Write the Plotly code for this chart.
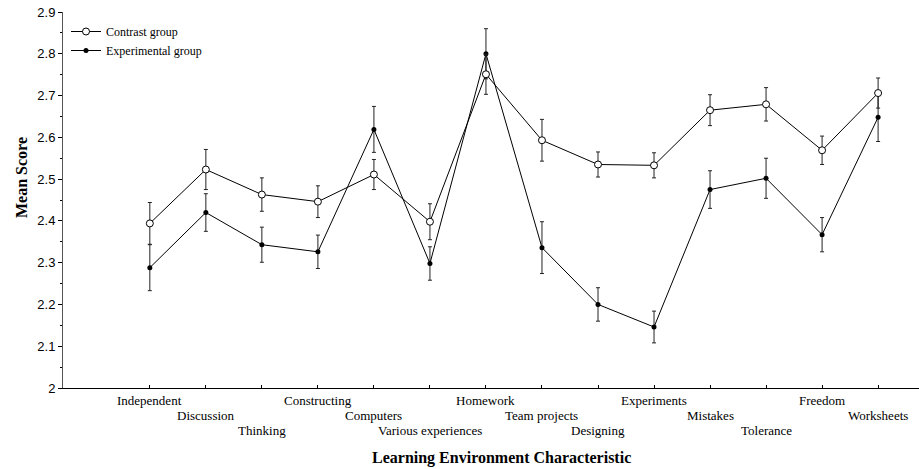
import plotly.graph_objects as go

categories = ["Independent", "Discussion", "Thinking", "Constructing", "Computers",
              "Various experiences", "Homework", "Team projects", "Designing",
              "Experiments", "Mistakes", "Tolerance", "Freedom", "Worksheets"]
contrast = [2.394, 2.523, 2.463, 2.446, 2.511, 2.398, 2.751, 2.593, 2.535, 2.533,
            2.665, 2.679, 2.569, 2.706]
contrast_err = [0.05, 0.048, 0.04, 0.038, 0.036, 0.043, 0.048, 0.05, 0.03, 0.03,
                0.037, 0.04, 0.034, 0.036]
experimental = [2.288, 2.42, 2.343, 2.326, 2.619, 2.298, 2.8, 2.336, 2.2, 2.146,
                2.475, 2.502, 2.367, 2.648]
experimental_err = [0.055, 0.045, 0.042, 0.04, 0.055, 0.04, 0.06, 0.062, 0.04, 0.038,
                    0.045, 0.048, 0.041, 0.058]
y_ticks = [2, 2.1, 2.2, 2.3, 2.4, 2.5, 2.6, 2.7, 2.8, 2.9]
y_tick_labels = ["2", "2.1", "2.2", "2.3", "2.4", "2.5", "2.6", "2.7", "2.8", "2.9"]

W, H = 919, 469
ML, MR, MT, MB = 63, 0, 12, 81
PW, PH = W - ML - MR, H - MT - MB

def px_to_paper_x(px):
    return (px - ML) / PW

def px_to_paper_y(py):
    return (H - MB - py) / PH

fig = go.Figure()
fig.add_trace(go.Scatter(
    x=categories, y=experimental, name="Experimental group", mode="lines+markers",
    line=dict(color="black", width=1),
    marker=dict(symbol="circle", size=5, color="black"),
    error_y=dict(type="data", array=experimental_err, color="#222", thickness=1, width=2),
))
fig.add_trace(go.Scatter(
    x=categories, y=contrast, name="Contrast group", mode="lines+markers",
    line=dict(color="black", width=1),
    marker=dict(symbol="circle", size=7, color="white", line=dict(color="black", width=1)),
    error_y=dict(type="data", array=contrast_err, color="#222", thickness=1, width=2),
))

serif = "Liberation Serif, Times New Roman, serif"
sans = "Liberation Sans, Arial, sans-serif"

annotations = []
row_y = [400, 415, 430]
for i, c in enumerate(categories):
    annotations.append(dict(
        x=c, xref="x", y=px_to_paper_y(row_y[i % 3]), yref="paper",
        text=c, showarrow=False, xanchor="center", yanchor="middle",
        font=dict(family=serif, size=13, color="black"),
    ))
annotations.append(dict(
    x=px_to_paper_x(501), xref="paper", y=px_to_paper_y(458), yref="paper",
    text="<b>Learning Environment Characteristic</b>", showarrow=False,
    xanchor="center", yanchor="middle",
    font=dict(family=serif, size=16, color="black"),
))
annotations.append(dict(
    x=px_to_paper_x(21), xref="paper", y=px_to_paper_y(178), yref="paper",
    text="<b>Mean Score</b>", showarrow=False, textangle=-90,
    xanchor="center", yanchor="middle",
    font=dict(family=serif, size=16, color="black"),
))

fig.update_layout(
    width=W, height=H,
    margin=dict(l=ML, r=MR, t=MT, b=MB, pad=0),
    paper_bgcolor="white", plot_bgcolor="white",
    showlegend=True,
    legend=dict(
        x=px_to_paper_x(66), y=px_to_paper_y(17), xanchor="left", yanchor="top",
        font=dict(family=serif, size=12, color="black"),
        traceorder="reversed", bgcolor="rgba(0,0,0,0)",
        itemwidth=30, tracegroupgap=0,
    ),
    annotations=annotations,
    xaxis=dict(
        type="category", categoryorder="array", categoryarray=categories,
        range=[-1.55, 13.73], showgrid=False, zeroline=False,
        showline=True, linecolor="black", linewidth=1,
        ticks="inside", ticklen=3, tickcolor="black", showticklabels=False,
    ),
    yaxis=dict(
        range=[2, 2.9], showgrid=False, zeroline=False,
        showline=True, linecolor="#555", linewidth=1,
        tickvals=y_ticks, ticktext=y_tick_labels,
        ticks="outside", ticklen=4, tickcolor="black",
        tickfont=dict(family=sans, size=13, color="black"),
        minor=dict(dtick=0.05, ticks="outside", ticklen=2, tickcolor="black"),
    ),
)

fig.write_html(
    "out.html",
    config={"displayModeBar": False},
    post_script="document.body.style.margin='0';document.body.style.overflow='hidden';",
)
